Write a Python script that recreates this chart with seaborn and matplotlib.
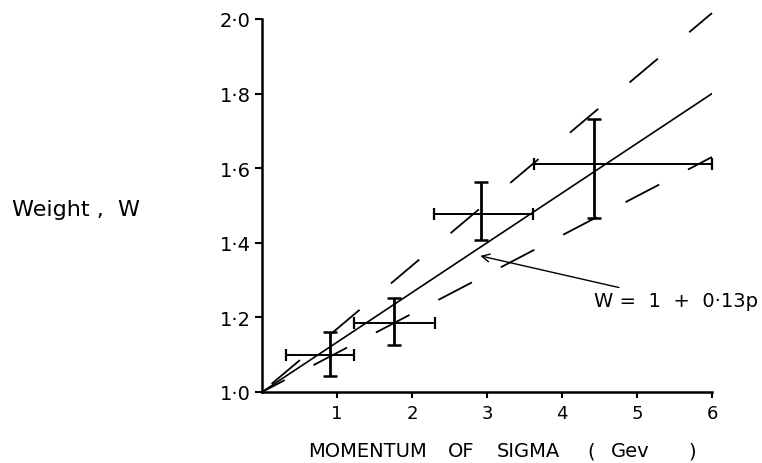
import matplotlib
matplotlib.use("Agg")
import matplotlib.pyplot as plt
import seaborn as sns
import pandas as pd

# ---- data ----
p_centre = [0.91, 1.76, 2.92, 4.43]
w_centre = [1.100, 1.185, 1.477, 1.611]
p_low = [0.32, 1.23, 2.29, 3.63]
p_high = [1.23, 2.31, 3.61, 6.00]
w_low = [1.043, 1.126, 1.407, 1.466]
w_high = [1.160, 1.252, 1.563, 1.732]

# lines listed from the right-hand end (x = 6) back to the origin
fit_p = [6.0, 0.0]
fit_w = [1.80, 1.00]
upper_w = [2.016, 1.00]
lower_w = [1.63, 1.00]

x_ticks = [1, 2, 3, 4, 5, 6]
x_tick_labels = ["1", "2", "3", "4", "5", "6"]
y_ticks = [1.0, 1.2, 1.4, 1.6, 1.8, 2.0]
y_tick_labels = ["1·0", "1·2", "1·4", "1·6", "1·8", "2·0"]

arrow_tip = (2.91, 1.365)
label_pos = (4.43, 1.245)
fit_label = "W =  1  +  0·13p"
y_title = "Weight ,  W"
x_title_words = ["MOMENTUM", "OF", "SIGMA", "(", "Gev", ")"]

sns.set_theme(style="ticks")
plt.rcParams["font.family"] = ["DejaVu Sans"]
plt.rcParams["text.color"] = "black"

fig = plt.figure(figsize=(7.62, 4.64), dpi=100)
ax = fig.add_axes([262 / 762, 1 - 393 / 464, 450 / 762, 373 / 464])

lines = pd.DataFrame({"p": fit_p, "fit": fit_w, "upper": upper_w, "lower": lower_w})
sns.lineplot(data=lines, x="p", y="fit", ax=ax, color="black", lw=1.2, sort=False)
sns.lineplot(data=lines, x="p", y="upper", ax=ax, color="black", lw=1.3, sort=False)
sns.lineplot(data=lines, x="p", y="lower", ax=ax, color="black", lw=1.3, sort=False)
ax.lines[1].set_linestyle((4, (20.5, 22.7)))
ax.lines[1].set_clip_on(False)
ax.lines[2].set_linestyle((6, (21, 18)))

xerr = [[c - lo for c, lo in zip(p_centre, p_low)], [hi - c for c, hi in zip(p_centre, p_high)]]
yerr = [[c - lo for c, lo in zip(w_centre, w_low)], [hi - c for c, hi in zip(w_centre, w_high)]]
ax.errorbar(p_centre, w_centre, xerr=xerr, fmt="none", ecolor="black",
            elinewidth=1.4, capsize=4, capthick=1.6, clip_on=False)
ax.errorbar(p_centre, w_centre, yerr=yerr, fmt="none", ecolor="black",
            elinewidth=2.0, capsize=5, capthick=1.8, clip_on=False)

ax.annotate(fit_label, xy=arrow_tip, xytext=label_pos, fontsize=14,
            ha="left", va="center", color="black",
            arrowprops=dict(arrowstyle="->", color="black", lw=1.0,
                            shrinkA=1, shrinkB=0))

ax.set_xlim(0, 6)
ax.set_ylim(1.0, 2.0)
ax.set_xticks(x_ticks)
ax.set_xticklabels(x_tick_labels)
ax.set_yticks(y_ticks)
ax.set_yticklabels(y_tick_labels)
ax.tick_params(axis="x", direction="out", length=4, width=1.5,
               labelsize=13, colors="black", pad=5)
ax.tick_params(axis="y", direction="out", length=5, width=1.5,
               labelsize=14, colors="black", pad=3)
for s in ("top", "right"):
    ax.spines[s].set_visible(False)
for s in ("left", "bottom"):
    ax.spines[s].set_linewidth(1.8)
    ax.spines[s].set_color("black")
ax.set_xlabel("")
ax.set_ylabel("")
ax.set_facecolor("white")

fig.text(12 / 762, 1 - 210 / 464, y_title, fontsize=16, ha="left", va="center",
         color="black")
for word, x_px in zip(x_title_words, [587 - 279, 448, 497, 587, 611, 688]):
    fig.text(x_px / 762, 1 - 452 / 464, word, fontsize=14,
             ha="left", va="center", color="black")

fig.savefig("out.png", dpi=100, facecolor="white")
